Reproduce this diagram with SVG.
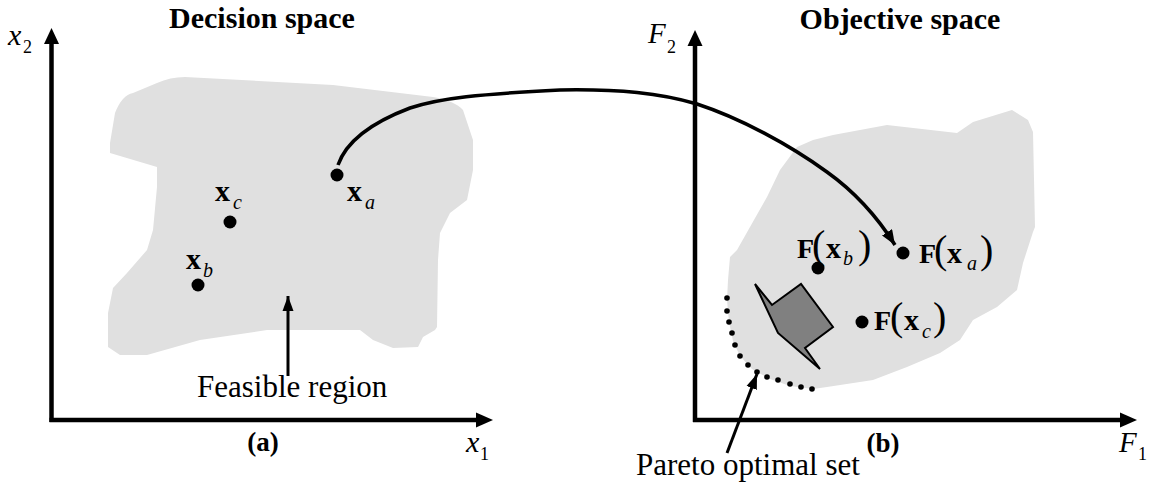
<svg xmlns="http://www.w3.org/2000/svg" width="1156" height="484" viewBox="0 0 1156 484">
<defs>
<style>
.t{font-family:"Liberation Serif","Times New Roman",serif;fill:#000}
.b{font-weight:bold}
.i{font-style:italic}
.ax{stroke:#000;stroke-width:4.5;fill:none}
.region{fill:#e0e0e0;stroke:none}
.dot{fill:#000}
.pd{fill:#000}
</style>
<marker id="ah" markerUnits="userSpaceOnUse" markerWidth="16" markerHeight="12" refX="15" refY="6" orient="auto">
<path d="M0,0 L15,6 L0,12 Z" fill="#000"/>
</marker>
<marker id="ahs" markerUnits="userSpaceOnUse" markerWidth="16" markerHeight="12" refX="15" refY="6" orient="auto">
<path d="M0,0.5 L15,6 L0,11.5 Z" fill="#000"/>
</marker>
</defs>
<rect width="1156" height="484" fill="#fff"/>

<g id="feasible-region-left">
<path class="region" d="M157,83 Q170,77 185,77 L333,85 L433,97 Q455,101 463,110 L473,140 L473,170 L467,200 L450,213 L440,233 L438,260 L437,327 L435,330 L423,337 L418,347 L393,348 L373,340 L360,330 L267,330 L200,340 L147,355 L120,355 L108,347 L108,313 L113,288 L127,273 L147,250 L153,230 L157,187 L157,167 L110,153 L110,143 L115,113 Q122,95 133,93 Z"/>
</g>

<g id="feasible-region-right">
<path class="region" d="M737,250 L750,227 L767,197 L780,170 L797,147 L813,140 L833,135 L887,125 L957,133 L973,122 L1012,110 L1028,120 L1033,132 L1035,227 L1033,232 L1023,263 L1017,290 L997,307 L973,320 L960,340 L940,353 L907,367 L873,380 L827,387 L813,389 L790,386 L770,379 L752,369 L740,356 L733,341 L729,322 L727,300 L728,280 L730,257 Z"/>
</g>

<g id="axes-left">
<line class="ax" x1="51.5" y1="422" x2="51.5" y2="42"/>
<path d="M44,44 L51.5,28 L59,44 Z" fill="#000"/>
<line class="ax" x1="49.5" y1="420" x2="477" y2="420"/>
<path d="M476,412.5 L493,420 L476,427.5 Z" fill="#000"/>
<text class="t i" x="8" y="45" font-size="30">x</text>
<text class="t" x="23" y="53" font-size="18">2</text>
<text class="t i" x="466" y="452" font-size="30">x</text>
<text class="t" x="480" y="460" font-size="18">1</text>
</g>

<g id="axes-right">
<line class="ax" x1="695" y1="422" x2="695" y2="44"/>
<path d="M687.5,46 L695,30 L702.5,46 Z" fill="#000"/>
<line class="ax" x1="693" y1="420" x2="1121" y2="420"/>
<path d="M1120,412.5 L1137,420 L1120,427.5 Z" fill="#000"/>
<text class="t i" x="648" y="43" font-size="29">F</text>
<text class="t" x="667" y="53" font-size="18">2</text>
<text class="t i" x="1119" y="452" font-size="29">F</text>
<text class="t" x="1138" y="460" font-size="18">1</text>
</g>

<g id="titles">
<text class="t b" x="262" y="28" font-size="30" text-anchor="middle">Decision space</text>
<text class="t b" x="900" y="29" font-size="30" text-anchor="middle">Objective space</text>
<text class="t b" x="263" y="451" font-size="27" text-anchor="middle">(a)</text>
<text class="t b" x="883" y="452" font-size="27" text-anchor="middle">(b)</text>
</g>

<g id="point-xa">
<circle class="dot" cx="337" cy="175" r="6.5"/>
<text class="t b" x="347" y="201" font-size="30">x</text>
<text class="t i" x="365" y="209" font-size="20">a</text>
</g>
<g id="point-xc">
<circle class="dot" cx="230" cy="222" r="6.5"/>
<text class="t b" x="215" y="201" font-size="30">x</text>
<text class="t i" x="233" y="209" font-size="20">c</text>
</g>
<g id="point-xb">
<circle class="dot" cx="198" cy="285" r="6.5"/>
<text class="t b" x="186" y="269" font-size="30">x</text>
<text class="t i" x="203" y="277" font-size="20">b</text>
</g>

<g id="label-feasible">
<text class="t" x="197" y="397" font-size="31">Feasible region</text>
</g>

<g id="point-Fxb">
<circle class="dot" cx="818" cy="268" r="6.5"/>
<text class="t b" x="797" y="258" font-size="28">F</text>
<text class="t" x="812" y="258" font-size="40">(</text>
<text class="t b" x="826" y="258" font-size="30">x</text>
<text class="t i" x="843" y="265" font-size="20">b</text>
<text class="t" x="858" y="258" font-size="40">)</text>
</g>
<g id="point-Fxa">
<circle class="dot" cx="903" cy="253" r="6.5"/>
<text class="t b" x="919" y="263" font-size="28">F</text>
<text class="t" x="934" y="263" font-size="40">(</text>
<text class="t b" x="947" y="263" font-size="30">x</text>
<text class="t i" x="967" y="270" font-size="20">a</text>
<text class="t" x="980" y="263" font-size="40">)</text>
</g>
<g id="point-Fxc">
<circle class="dot" cx="862" cy="322" r="6.5"/>
<text class="t b" x="874" y="330" font-size="28">F</text>
<text class="t" x="890" y="330" font-size="40">(</text>
<text class="t b" x="904" y="330" font-size="30">x</text>
<text class="t i" x="922" y="338" font-size="20">c</text>
<text class="t" x="933" y="330" font-size="40">)</text>
</g>

<g id="dominated-shape">
<polygon points="755,284 772,305 801,284 833,327 805,348 820,369 778,333" fill="#808080" stroke="#000" stroke-width="2" stroke-linejoin="miter"/>
</g>

<g id="pareto-set">
<circle class="pd" cx="727" cy="298" r="2.8"/>
<circle class="pd" cx="727" cy="311" r="2.8"/>
<circle class="pd" cx="729" cy="322" r="2.8"/>
<circle class="pd" cx="732" cy="333" r="2.8"/>
<circle class="pd" cx="735" cy="345" r="2.8"/>
<circle class="pd" cx="740" cy="356" r="2.8"/>
<circle class="pd" cx="748" cy="365" r="2.8"/>
<circle class="pd" cx="757" cy="372" r="2.8"/>
<circle class="pd" cx="767" cy="377" r="2.8"/>
<circle class="pd" cx="778" cy="380" r="2.8"/>
<circle class="pd" cx="790" cy="384" r="2.8"/>
<circle class="pd" cx="801" cy="387" r="2.8"/>
<circle class="pd" cx="812" cy="389" r="2.8"/>
</g>

<g id="label-pareto">
<text class="t" x="636" y="475" font-size="31">Pareto optimal set</text>
</g>

<g id="connectors" fill="none" stroke="#000">
<path d="M338,165 C345,145 365,125 410,108 C440,98 480,94 560,90 C620,89 660,93 697,104 C740,118 790,145 827,172 C855,192 878,218 895,245" stroke-width="3.5" marker-end="url(#ah)"/>
<line x1="288" y1="376" x2="288" y2="296" stroke-width="3" marker-end="url(#ahs)"/>
<line x1="727" y1="453" x2="757" y2="374" stroke-width="3" marker-end="url(#ahs)"/>
</g>
</svg>
